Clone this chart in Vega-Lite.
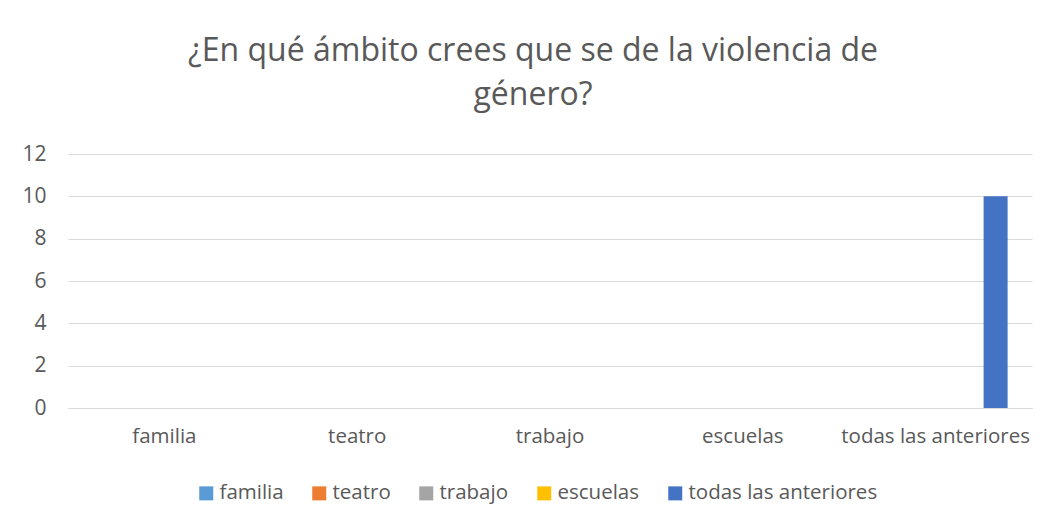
{
  "$schema": "https://vega.github.io/schema/vega-lite/v6.json",
  "autosize": "none",
  "width": 964,
  "height": 254,
  "padding": {"left": 68, "top": 154, "right": 19, "bottom": 118},
  "background": "white",
  "config": {
    "font": "Open Sans",
    "view": {"stroke": null}
  },
  "title": {
    "text": ["¿En qué ámbito crees que se de la violencia de", "género?"],
    "fontSize": 32,
    "font": "Open Sans",
    "fontWeight": "normal",
    "color": "#595959",
    "anchor": "middle",
    "dx": -17,
    "offset": 31,
    "lineHeight": 44
  },
  "data": {
    "values": [
      {"categoria": "familia", "serie": "familia", "valor": 0},
      {"categoria": "teatro", "serie": "teatro", "valor": 0},
      {"categoria": "trabajo", "serie": "trabajo", "valor": 0},
      {"categoria": "escuelas", "serie": "escuelas", "valor": 0},
      {"categoria": "todas las anteriores", "serie": "todas las anteriores", "valor": 10}
    ]
  },
  "mark": {"type": "bar"},
  "encoding": {
    "x": {
      "field": "categoria",
      "type": "nominal",
      "sort": ["familia", "teatro", "trabajo", "escuelas", "todas las anteriores"],
      "scale": {"paddingInner": 0, "paddingOuter": 0},
      "axis": {
        "title": null,
        "labelAngle": 0,
        "labelFontSize": 20.5,
        "labelColor": "#595959",
        "labelPadding": 18,
        "labelLimit": 400,
        "labelOverlap": false,
        "ticks": false,
        "domainColor": "#d9d9d9",
        "domainWidth": 1
      }
    },
    "xOffset": {
      "field": "serie",
      "type": "nominal",
      "sort": ["familia", "teatro", "trabajo", "escuelas", "todas las anteriores"],
      "scale": {"paddingInner": 0.2, "paddingOuter": 0.813}
    },
    "y": {
      "field": "valor",
      "type": "quantitative",
      "scale": {"domain": [0, 12]},
      "axis": {
        "title": null,
        "values": [0, 2, 4, 6, 8, 10, 12],
        "labelOverlap": false,
        "labelFontSize": 21,
        "labelColor": "#595959",
        "labelPadding": 22,
        "ticks": false,
        "domain": false,
        "gridColor": "#d9d9d9",
        "gridWidth": 1
      }
    },
    "color": {
      "field": "serie",
      "type": "nominal",
      "sort": ["familia", "teatro", "trabajo", "escuelas", "todas las anteriores"],
      "scale": {
        "domain": ["familia", "teatro", "trabajo", "escuelas", "todas las anteriores"],
        "range": ["#5B9BD5", "#ED7D31", "#A5A5A5", "#FFC000", "#4472C4"]
      },
      "legend": {
        "title": null,
        "orient": "none",
        "direction": "horizontal",
        "legendX": 128,
        "legendY": 329,
        "symbolType": "square",
        "symbolSize": 196,
        "symbolStrokeWidth": 0,
        "labelFontSize": 20.5,
        "labelLimit": 400,
        "labelColor": "#595959",
        "columnPadding": 25,
        "labelOffset": 3
      }
    }
  }
}
